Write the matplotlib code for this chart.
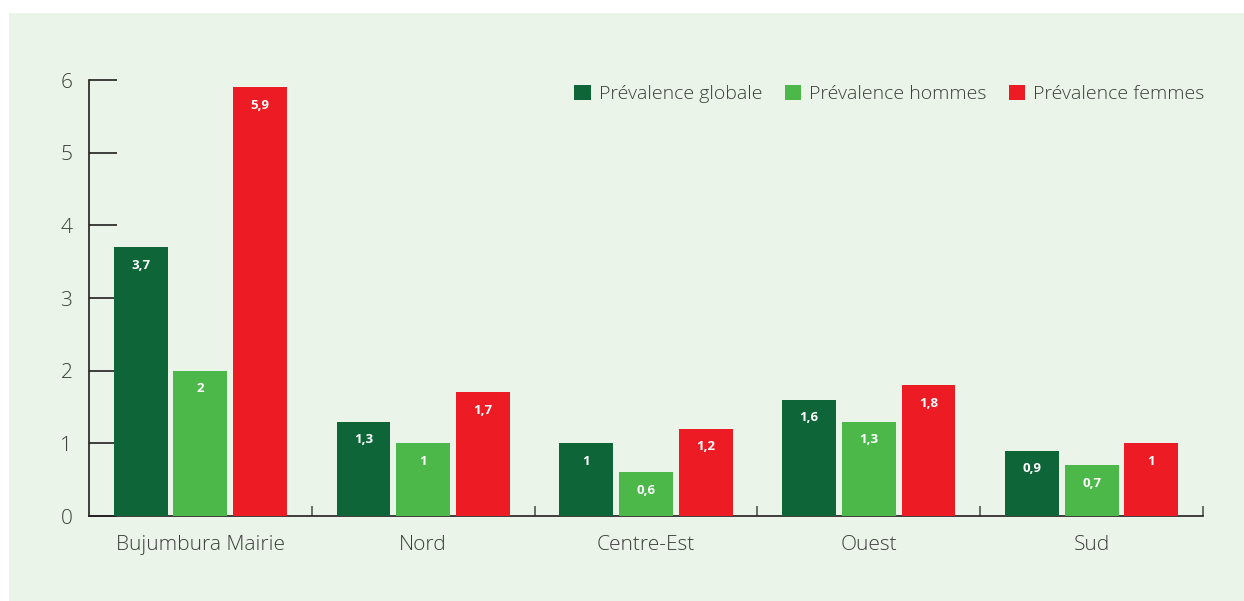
import numpy as np
import matplotlib.pyplot as plt
from matplotlib.patches import Rectangle

# Prévalence par région
regions = ["Bujumbura Mairie", "Nord", "Centre-Est", "Ouest", "Sud"]
globale = [3.7, 1.3, 1.0, 1.6, 0.9]
hommes = [2.0, 1.0, 0.6, 1.3, 0.7]
femmes = [5.9, 1.7, 1.2, 1.8, 1.0]
series_names = ["Prévalence globale", "Prévalence hommes", "Prévalence femmes"]
colors = ["#0E6638", "#4CB84A", "#ED1C24"]

bg = "#EAF4E8"
text_col = "#3C3C3C"
axis_col = "#231F20"

plt.rcParams['font.family'] = ['Open Sans', 'DejaVu Sans']
plt.rcParams['font.weight'] = 'light'

fig = plt.figure(figsize=(12.44, 6.01), dpi=100)
fig.patch.set_facecolor("white")
# light green panel behind the chart
fig.patches.append(Rectangle((9 / 1244, 0), 1 - 9 / 1244, 1 - 13 / 601,
                             transform=fig.transFigure, facecolor=bg,
                             edgecolor="none", zorder=-10))

ax = fig.add_axes([89 / 1244, 85 / 601, (1203 - 89) / 1244, (516 - 80) / 601])
ax.set_facecolor("none")

x = np.arange(len(regions))
width = 0.242
offset = 0.268

for i, (vals, name, c) in enumerate(zip([globale, hommes, femmes], series_names, colors)):
    bars = ax.bar(x + (i - 1) * offset, vals, width, color=c, label=name, zorder=3)
    for b, v in zip(bars, vals):
        lab = f"{v:g}".replace(".", ",")
        ax.annotate(lab, (b.get_x() + b.get_width() / 2, v), xytext=(0, -13),
                    textcoords="offset points", ha="center", va="center",
                    color="white", fontsize=9.5, fontweight="bold", zorder=4)

ax.set_xlim(-0.5, len(regions) - 0.5)
ax.set_ylim(0, 6)

# y axis: ticks pointing inward
ax.set_yticks(range(0, 7))
ax.tick_params(axis="y", direction="in", length=20, width=1.2, color=axis_col,
               labelsize=15, labelcolor=text_col, pad=12)

# x axis: separators between regions, names centred on groups
ax.set_xticks(np.arange(0.5, len(regions), 1.0))
ax.set_xticklabels([])
ax.tick_params(axis="x", which="major", direction="in", length=7, width=1.2,
               color="#555555")
ax.set_xticks(x, minor=True)
ax.set_xticklabels(regions, minor=True)
ax.tick_params(axis="x", which="minor", length=0, labelsize=15,
               labelcolor=text_col, pad=14)

for s in ["top", "right"]:
    ax.spines[s].set_visible(False)
for s in ["left", "bottom"]:
    ax.spines[s].set_color(axis_col)
    ax.spines[s].set_linewidth(1.2)

ax.legend(loc="upper right", bbox_to_anchor=(1.008, 1.007), ncol=3, frameon=False,
          fontsize=14, labelcolor=text_col, handlelength=0.85, handleheight=0.85,
          handletextpad=0.4, columnspacing=1.15, borderaxespad=0)

fig.savefig("out.png", dpi=100, facecolor=fig.get_facecolor())
